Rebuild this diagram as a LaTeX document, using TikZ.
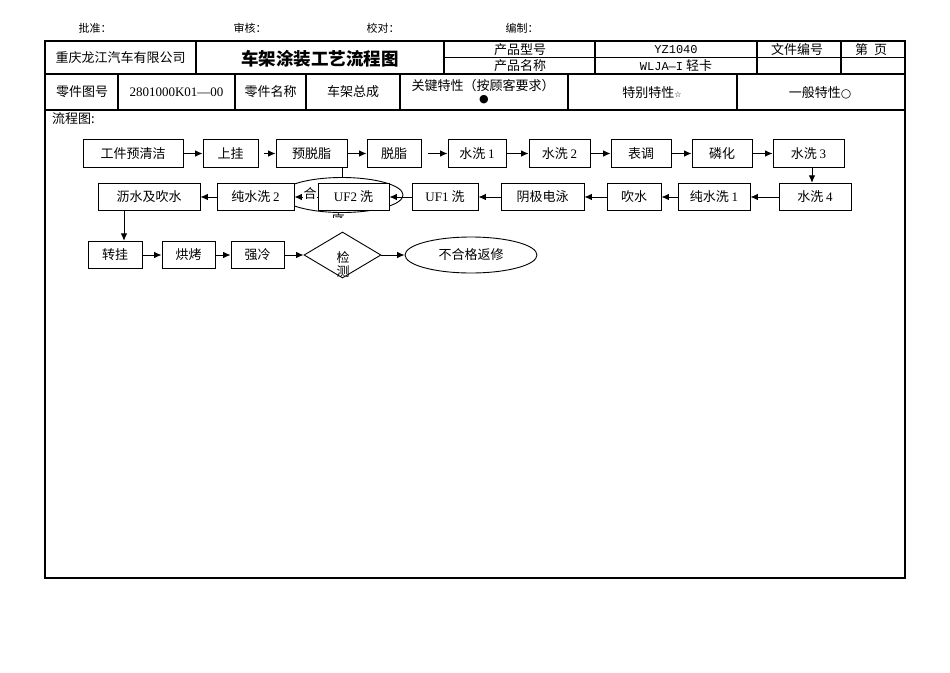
\documentclass[tikz,border=0pt]{standalone}
\usepackage{fontspec}
\setmainfont{Noto Sans CJK SC}
\newfontfamily\lat{Liberation Serif}
\newfontfamily\mono{Liberation Mono}
\newfontfamily\sym{DejaVu Sans}
\usetikzlibrary{shapes.geometric,arrows.meta}
\begin{document}
\begin{tikzpicture}[x=1pt,y=-1pt,
  box/.style={draw, line width=0.9pt, fill=white, inner sep=0pt, minimum height=27.5pt, font=\fontsize{13}{15}\selectfont},
  arr/.style={-{Latex[length=7.5pt,width=6.5pt]}, line width=0.9pt},
  grid/.style={line width=1.2pt},
  cell/.style={inner sep=0pt, font=\fontsize{13}{15}\selectfont},
  small/.style={inner sep=0pt, font=\fontsize{11}{13}\selectfont},
]
\useasboundingbox (0,0) rectangle (950,672);

% top signature labels
\node[small] (pz) at (95,28) {批准：};
\node[small] (sh) at (250,28) {审核：};
\node[small] (jd) at (383,28) {校对：};
\node[small] (bz) at (522,28) {编制：};

% table frame
\draw[grid] (45,41) rectangle (905,578);
\draw[line width=1.6pt] (45,578) -- (905,578);
\draw[grid] (45,74) -- (905,74);
\draw[grid] (45,110) -- (905,110);
\draw[line width=1pt] (444,57.5) -- (905,57.5);
\foreach \x in {196,444,595,757,841} \draw[grid] (\x,41) -- (\x,74);
\foreach \x in {118,235,306,400,568,737} \draw[grid] (\x,74) -- (\x,110);

% header texts
\node[cell] (co) at (120.5,58) {重庆龙江汽车有限公司};
\node[cell, font=\fontsize{17.5}{20}\selectfont\bfseries] (ti) at (320,58.5) {车架涂装工艺流程图};
\node[cell] (cx) at (520,49.5) {产品型号};
\node[cell] (cm) at (520,66) {产品名称};
\node[cell] (yz) at (676,49.5) {\mono\fontsize{12}{14}\selectfont YZ1040};
\node[cell] (wl) at (676,66) {{\mono\fontsize{12}{14}\selectfont WLJA—I} 轻卡};
\node[cell] (wj) at (797,49.5) {文件编号};
\node[cell] (dy) at (871,49.5) {第\hspace{6pt}页};

\node[cell] (lt) at (82,92) {零件图号};
\node[cell] (th) at (176.5,92) {\lat 2801000K01—00};
\node[cell] (lm) at (270.5,92) {零件名称};
\node[cell] (zc) at (353,92) {车架总成};
\node[cell] (gj) at (483,86) {关键特性（按顾客要求）};
\node[inner sep=0pt, font=\sym\fontsize{11}{11}\selectfont] (dot) at (484,100) {●};
\node[cell] (tb) at (652,93) {特别特性{\sym\fontsize{8}{8}\selectfont ☆}};
\node[cell] (yb) at (820,93) {一般特性{\sym\fontsize{12}{12}\selectfont ○}};

\node[cell, anchor=west] (lct) at (52,119) {流程图:};

% hidden ellipse behind UF2
\node[draw, ellipse, line width=0.9pt, minimum width=122pt, minimum height=35pt, inner sep=0pt] (hg) at (342,195) {};
\begin{scope}
  \clip (300,211.5) rectangle (380,217.5);
  \node[cell] (xu) at (338,220) {序};
\end{scope}

% row 1
\node[box, minimum width=100pt] (r1) at (133,153.5) {工件预清洁};
\node[box, minimum width=55pt] (r2) at (230.5,153.5) {上挂};
\node[box, minimum width=71pt] (r3) at (311.5,153.5) {预脱脂};
\node[box, minimum width=54pt] (r4) at (394,153.5) {脱脂};
\node[box, minimum width=58pt] (r5) at (477,153.5) {水洗 {\lat 1}};
\node[box, minimum width=61pt] (r6) at (559.5,153.5) {水洗 {\lat 2}};
\node[box, minimum width=60pt] (r7) at (641,153.5) {表调};
\node[box, minimum width=60pt] (r8) at (722,153.5) {磷化};
\node[box, minimum width=71pt] (r9) at (808.5,153.5) {水洗 {\lat 3}};

% row 2
\node[box, minimum width=72pt] (s1) at (815,197) {水洗 {\lat 4}};
\node[box, minimum width=72pt] (s2) at (714,197) {纯水洗 {\lat 1}};
\node[box, minimum width=54pt] (s3) at (634,197) {吹水};
\node[box, minimum width=83pt] (s4) at (542.5,197) {阴极电泳};
\node[box, minimum width=66pt] (s5) at (445,197) {{\lat UF1} 洗};
\node[box, minimum width=71pt] (s6) at (353.5,197) {{\lat UF2} 洗};
\node[box, minimum width=77pt] (s7) at (255.5,197) {纯水洗 {\lat 2}};
\node[box, minimum width=102pt] (s8) at (149,197) {沥水及吹水};

% row 3
\node[box, minimum width=54pt] (t1) at (115,255) {转挂};
\node[box, minimum width=53pt] (t2) at (188.5,255) {烘烤};
\node[box, minimum width=53pt] (t3) at (257.5,255) {强冷};
\node[draw, diamond, line width=0.9pt, minimum width=77pt, minimum height=46pt, inner sep=0pt] (t4) at (342.5,255) {};
\node[cell, align=center, font=\fontsize{13}{14}\selectfont] (t4t) at (343,264) {检\\测};
\node[draw, ellipse, line width=0.9pt, minimum width=132pt, minimum height=36pt, inner sep=0pt, font=\fontsize{13}{15}\selectfont] (t5) at (471,255) {不合格返修};

% connectors
\draw[line width=0.9pt] (r3.south -| hg.north) -- (hg.north);
\draw[arr] (r1) -- (r2);
\draw[arr, shorten <=6pt] (r2) -- (r3);
\draw[arr] (r3) -- (r4);
\draw[arr, shorten <=7pt] (r4) -- (r5);
\draw[arr] (r5) -- (r6);
\draw[arr] (r6) -- (r7);
\draw[arr] (r7) -- (r8);
\draw[arr] (r8) -- (r9);
\draw[arr] ([xshift=3.5pt]r9.south) -- ([xshift=-3pt]s1.north);
\draw[arr] (s1) -- (s2);
\draw[arr] (s2) -- (s3);
\draw[arr] (s3) -- (s4);
\draw[arr] (s4) -- (s5);
\draw[arr] (s5) -- (s6);
\draw[arr] (s6) -- (s7);
\draw[arr] (s7) -- (s8);
\draw[arr] ([xshift=-25pt]s8.south) -- ([xshift=9pt]t1.north);
\draw[arr] (t1) -- (t2);
\draw[arr] (t2) -- (t3);
\draw[arr] (t3) -- (t4);
\draw[arr] (t4) -- (t5);

\node[cell, fill=white, inner sep=0.5pt] (he) at (310,194) {合};
\end{tikzpicture}
\end{document}
